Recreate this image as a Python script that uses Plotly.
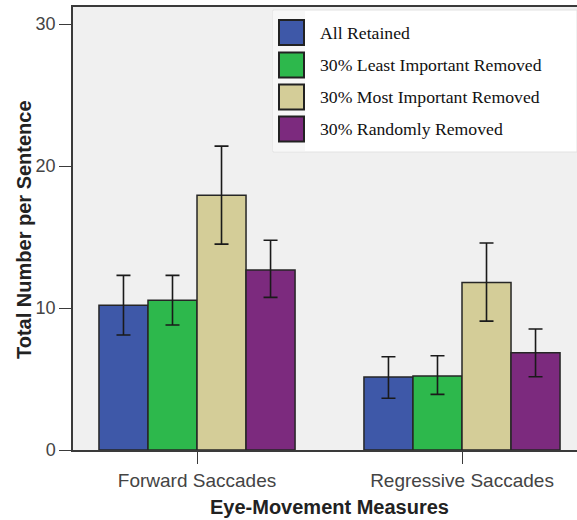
import plotly.graph_objects as go

# ---- data ----
categories = ["Forward Saccades", "Regressive Saccades"]
series_names = ["All Retained", "30% Least Important Removed",
                "30% Most Important Removed", "30% Randomly Removed"]
all_retained = [10.2, 5.15]
least_removed = [10.55, 5.22]
most_removed = [17.95, 11.8]
random_removed = [12.68, 6.85]
upper_ci = [[12.3, 6.57], [12.3, 6.64], [21.4, 14.58], [14.77, 8.52]]
lower_ci = [[8.1, 3.64], [8.8, 3.92], [14.5, 9.08], [10.75, 5.16]]
y_ticks = [0, 10, 20, 30]
x_title = "Eye-Movement Measures"
y_title = "Total Number per Sentence"

colors = ["#3e58a8", "#2db84c", "#d4cd98", "#7c2a7e"]
values = [all_retained, least_removed, most_removed, random_removed]

W, H = 577, 520
ML, MR, MT, MB = 73, 0, 7, 70
PW, PH = W - ML - MR, H - MT - MB


def px(x):
    return (x - ML) / PW


def py(y):
    return (H - MB - y) / PH


fig = go.Figure()
for name, vals, up, lo, col in zip(series_names, values, upper_ci, lower_ci, colors):
    fig.add_trace(go.Bar(
        x=categories, y=vals, name=name,
        marker=dict(color=col, line=dict(color="#262626", width=1.5)),
        error_y=dict(type="data", symmetric=False,
                     array=[u - v for u, v in zip(up, vals)],
                     arrayminus=[v - l for v, l in zip(vals, lo)],
                     color="#1a1a1a", thickness=1.6, width=7),
        showlegend=False,
    ))

# custom legend (big swatches, serif text)
shapes = [
    dict(type="rect", xref="paper", yref="paper", x0=px(273), x1=px(577),
         y0=py(152), y1=py(10), fillcolor="white",
         line=dict(color="#e2e2e2", width=1), layer="above"),
    dict(type="rect", xref="paper", yref="paper", x0=px(273), x1=px(305),
         y0=py(151), y1=py(11), fillcolor="#f7f7f7",
         line=dict(width=0), layer="above"),
]
annotations = []
row_y = [32.5, 65, 97, 129]
for name, col, ry in zip(series_names, colors, row_y):
    shapes.append(dict(type="rect", xref="paper", yref="paper",
                       x0=px(279), x1=px(304), y0=py(ry + 12.5), y1=py(ry - 12.5),
                       fillcolor=col, line=dict(color="#222", width=2), layer="above"))
    annotations.append(dict(xref="paper", yref="paper", x=px(318), y=py(ry),
                            xanchor="left", yanchor="middle", showarrow=False,
                            text=name, font=dict(family="Liberation Serif", size=17.7, color="#111")))

# axis titles as annotations
annotations.append(dict(xref="paper", yref="paper", x=px(329), y=py(507),
                        xanchor="center", yanchor="middle", showarrow=False,
                        text="<b>" + x_title + "</b>",
                        font=dict(size=20, color="#222")))
annotations.append(dict(xref="paper", yref="paper", x=px(24), y=py(230),
                        xanchor="center", yanchor="middle", showarrow=False,
                        textangle=-90, text="<b>" + y_title + "</b>",
                        font=dict(size=20, color="#222")))

fig.update_layout(
    width=W, height=H,
    margin=dict(l=ML, r=MR, t=MT, b=MB, autoexpand=False),
    paper_bgcolor="white", plot_bgcolor="#f0f0f0",
    barmode="group", bargap=0.26, bargroupgap=0,
    font=dict(family="Liberation Sans, Arial", color="#444"),
    shapes=shapes, annotations=annotations,
    xaxis=dict(range=[-0.468, 1.434], showgrid=False, zeroline=False, automargin=False,
               showline=True, linecolor="#3a3a3a", linewidth=1.5, mirror=True,
               ticks="outside", ticklen=12, tickcolor="#3a3a3a", tickwidth=1.3,
               tickfont=dict(size=19, color="#444")),
    yaxis=dict(range=[0, 31.2], tickvals=y_ticks, showgrid=False, zeroline=False,
               automargin=False,
               showline=True, linecolor="#3a3a3a", linewidth=1.5,
               ticks="outside", ticklen=12, tickcolor="#3a3a3a", tickwidth=1.3,
               tickfont=dict(size=18, color="#444")),
)

fig.write_html("out.html", config={"displayModeBar": False},
               post_script="document.body.style.margin='0';document.body.style.padding='0';")
